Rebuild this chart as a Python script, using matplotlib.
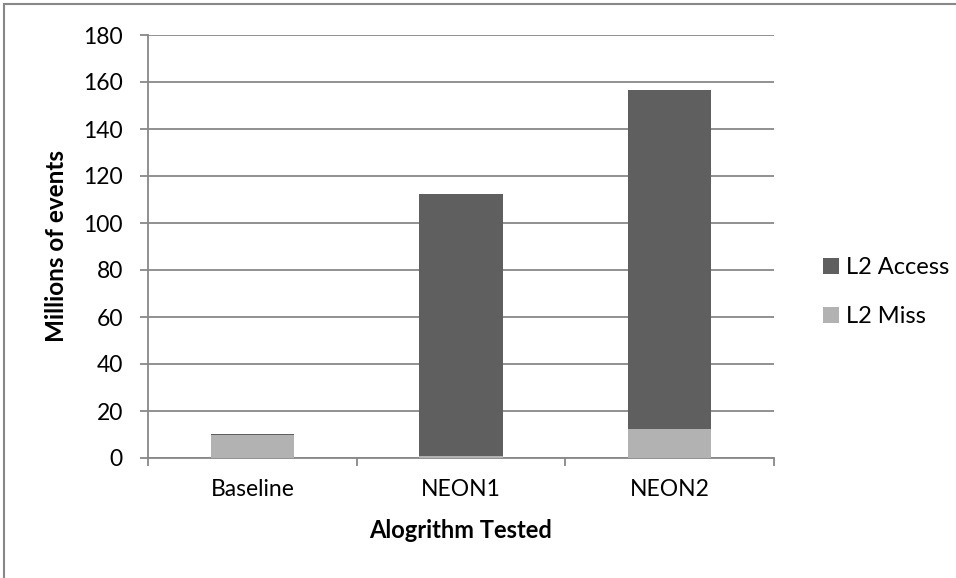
import matplotlib.pyplot as plt
import numpy as np
from matplotlib.patches import Rectangle

# cache events per algorithm, in millions
algorithms = ["Baseline", "NEON1", "NEON2"]
l2_miss = [9.7, 0.8, 12.2]
l2_access = [0.5, 111.4, 144.6]

plt.rcParams['font.family'] = ['Lato', 'DejaVu Sans']

grid_col = "#888888"
fig = plt.figure(figsize=(9.56, 5.78), dpi=100)
ax = fig.add_axes([148 / 956, 1 - 458 / 578, 626 / 956, 423 / 578])

x = np.arange(len(algorithms))
ax.bar(x, l2_miss, width=0.4, color="#b2b2b2", label="L2 Miss", zorder=3)
ax.bar(x, l2_access, width=0.4, bottom=l2_miss, color="#5f5f5f",
       label="L2 Access", zorder=3)

ax.set_xlim(-0.5, len(algorithms) - 0.5)
ax.set_ylim(0, 180)
ax.set_yticks(np.arange(0, 181, 20))
ax.yaxis.grid(True, color=grid_col, linewidth=1.3, zorder=0)
ax.set_axisbelow(True)

ax.set_xticks(x)
ax.set_xticklabels(algorithms, fontsize=16.5, color="black")
ax.set_xticks(np.arange(-0.5, len(algorithms), 1), minor=True)
ax.tick_params(axis="x", which="major", length=0, pad=15)
ax.tick_params(axis="x", which="minor", length=6, width=1.3, color=grid_col)
ax.tick_params(axis="y", length=6, width=1.3, color=grid_col, labelsize=16.5,
               labelcolor="black", pad=12)

for side in ["top", "right"]:
    ax.spines[side].set_visible(False)
for side in ["left", "bottom"]:
    ax.spines[side].set_color(grid_col)
    ax.spines[side].set_linewidth(1.3)

ax.set_xlabel("Alogrithm Tested", fontsize=17, fontweight="bold", labelpad=14)
ax.set_ylabel("Millions of events", fontsize=17.5, fontweight="bold", labelpad=11)

handles, labels = ax.get_legend_handles_labels()
ax.legend(handles[::-1], labels[::-1], loc="center left",
          bbox_to_anchor=(1.045, 0.392), frameon=False, fontsize=17,
          handlelength=0.65, handleheight=0.65, handletextpad=0.3,
          labelspacing=1.2)

# chart area border
fig.patches.append(Rectangle((4 / 956, -0.1), 1.1, 1 - 4 / 578 + 0.1,
                             transform=fig.transFigure, fill=False,
                             edgecolor="#888888", linewidth=1.5))

fig.savefig("out.png", dpi=100)
